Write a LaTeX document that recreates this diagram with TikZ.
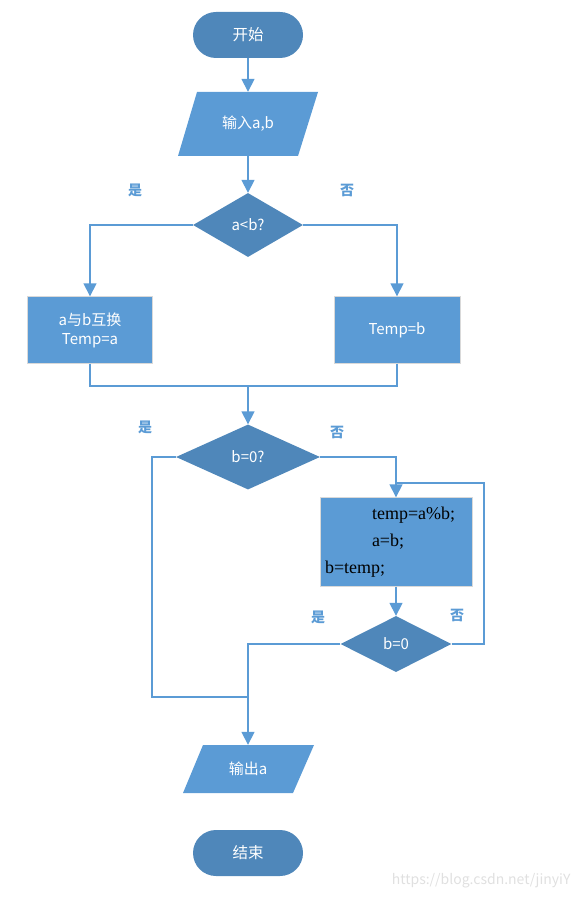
\documentclass[tikz,border=0pt]{standalone}
\usepackage{fontspec}
\setmainfont{Noto Sans CJK SC}
\newfontfamily\timesfont{Liberation Serif}
\usetikzlibrary{shapes.geometric,arrows.meta}
\definecolor{dk}{HTML}{4F87BA}
\definecolor{lt}{HTML}{5B9BD5}
\tikzset{
  term/.style={rectangle, rounded corners=23pt, fill=dk, minimum width=110pt, minimum height=46pt, text=white, font=\fontsize{15.5}{17}\selectfont},
  dia/.style={diamond, fill=dk, inner sep=0pt, text=white, font=\fontsize{15}{17}\selectfont},
  box/.style={rectangle, fill=lt, draw=black!15, text=white, font=\fontsize{15}{19}\selectfont, align=center},
  ptext/.style={text=white, font=\fontsize{15}{17}\selectfont, inner sep=0pt},
  lbl/.style={text=lt, font=\fontsize{14}{16}\selectfont\bfseries},
  conn/.style={draw=lt, line width=1.6pt},
  arr/.style={conn, -{Triangle[width=13pt,length=13pt]}},
}
\begin{document}
\begin{tikzpicture}[x=1pt,y=-1pt]
\useasboundingbox (0,0) rectangle (584,901);
% start
\node[term] (start) at (248,35) {开始};
% input parallelogram
\fill[lt] (197,92) -- (318,92) -- (298,156) -- (178,156) -- cycle;
\node[ptext, minimum height=64pt, minimum width=100pt] (in) at (248,124) {输入a,b};
\draw[arr] (start) -- (in);
% decision 1
\node[dia, minimum width=110pt, minimum height=64pt] (d1) at (248,225) {a<b?};
\draw[arr] (in) -- (d1);
% boxes
\node[box, minimum width=125pt, minimum height=67pt] (swap) at (90,330) {a与b互换\\Temp=a};
\node[box, minimum width=126pt, minimum height=67pt] (tb) at (397,330) {Temp=b};
\draw[arr] (d1.west) -| (swap.north);
\draw[arr] (d1.east) -| (tb.north);
\node[lbl] (y1) at (135,190) {是};
\node[lbl] (n1) at (347,190) {否};
% merge
\coordinate (m1) at (248,386);
\draw[conn] (swap.south) |- (m1);
\draw[conn] (tb.south) |- (m1);
% decision 2
\node[dia, minimum width=144pt, minimum height=65pt] (d2) at (248,457) {b=0?};
\draw[arr] (m1) -- (d2.north);
\node[lbl] (y2) at (145,427) {是};
\node[lbl] (n2) at (337,432) {否};
% loop body
\node[box, minimum width=152pt, minimum height=89pt, text width=142pt, align=left, text=black, font=\timesfont\fontsize{18}{27}\selectfont] (body) at (396,542) {\hspace*{47pt}temp=a\%b;\\\hspace*{47pt}a=b;\\b=temp;};
\draw[arr] (d2.east) -| (body.north);
% decision 3
\node[dia, minimum width=111pt, minimum height=56pt] (d3) at (396,644) {b=0};
\draw[arr] (body.south) -- (d3.north);
\node[lbl] (y3) at (318,617) {是};
\node[lbl] (n3) at (457,615) {否};
\coordinate (lp1) at (484,644);
\coordinate (lp2) at (484,483);
\coordinate (lp3) at (396,483);
\draw[conn] (d3.east) -- (lp1) -- (lp2) -- (lp3);
% output
\fill[lt] (203,745) -- (314,745) -- (293,793) -- (183,793) -- cycle;
\node[ptext, minimum height=48pt, minimum width=90pt] (out) at (248,769) {输出a};
\coordinate (m2) at (248,697);
\coordinate (c1) at (152,697);
\draw[conn] (d2.west) -| (c1) -- (m2);
\draw[conn] (d3.west) -| (m2);
\draw[arr] (m2) -- (out.north);
% end
\node[term] (end) at (248,853) {结束};
% watermark
\node[text=black!12, font=\fontsize{14}{16}\selectfont, anchor=east] (wm) at (574,881) {https://blog.csdn.net/jinyiY};
\end{tikzpicture}
\end{document}
